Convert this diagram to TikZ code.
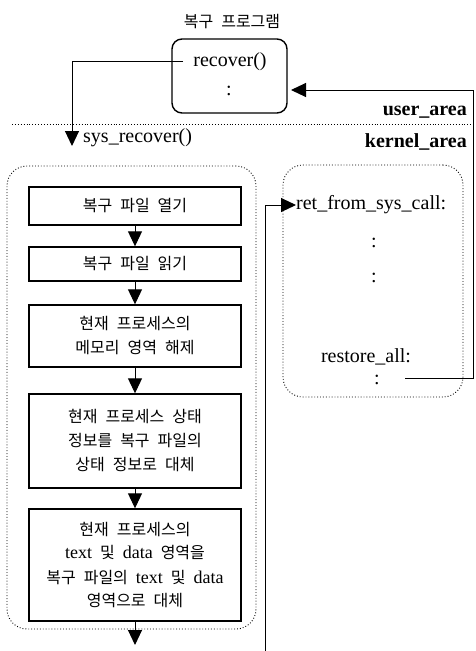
\documentclass[tikz,border=0pt]{standalone}
\usepackage{fontspec}
\setmainfont{Liberation Serif}
\newfontfamily\kr{Noto Sans CJK KR}
\usetikzlibrary{arrows.meta}
\newcommand{\gp}{\hspace{0.5em}}
\newcommand{\lt}[1]{{\rmfamily\fontsize{18}{18}\selectfont #1}}
\begin{document}
\begin{tikzpicture}[x=1pt,y=-1pt,
  tip/.style={-{Triangle[length=15pt,width=14pt]}},
  conn/.style={line width=1pt,tip},
  flowbox/.style={draw,line width=1.4pt,minimum width=212pt,align=center,font=\kr\fontsize{16}{24}\selectfont,inner sep=0pt},
  dotbox/.style={draw,dotted,line width=0.9pt,rounded corners=20pt,inner sep=0pt},
  latin/.style={font=\fontsize{20}{22}\selectfont,inner sep=0pt},
  areal/.style={font=\bfseries\fontsize{20}{22}\selectfont,inner sep=0pt,anchor=east}]
\useasboundingbox (0,0) rectangle (475,651);
% user area
\node[font=\kr\fontsize{16}{18}\selectfont,inner sep=0pt] (title) at (232,22) {복구\gp 프로그램};
\node[draw,line width=1.4pt,rounded corners=10pt,minimum width=115pt,minimum height=74pt,inner sep=0pt] (recbox) at (229.5,76) {};
\node[latin] (rec) at (230,62) {recover()};
\node[latin] (rcol) at (229,91) {:};
\coordinate (recout) at (183,61);
\coordinate (callend) at (72,146);
\draw[conn] (recout) -- (72,61) -- (callend);
\node[latin,anchor=west] (sysrec) at (83,138) {sys\_recover()};
\coordinate (sepL) at (12,124);
\coordinate (sepR) at (475,124);
\draw[dotted,line width=0.9pt] (sepL) -- (sepR);
\node[areal] (ua) at (467,112) {user\_area};
\node[areal] (ka) at (467,142) {kernel\_area};
% kernel box
\node[dotbox,minimum width=249pt,minimum height=463pt] (kbox) at (131.5,397.5) {};
\node[flowbox,minimum height=38pt] (b1) at (135,206) {복구\gp 파일\gp 열기};
\node[flowbox,minimum height=34pt] (b2) at (135,264) {복구\gp 파일\gp 읽기};
\node[flowbox,minimum height=62pt] (b3) at (135,336) {현재\gp 프로세스의\\메모리\gp 영역\gp 해제};
\node[flowbox,minimum height=94pt] (b4) at (135,441) {현재\gp 프로세스\gp 상태\\정보를\gp 복구\gp 파일의\\상태\gp 정보로\gp 대체};
\node[flowbox,minimum height=112pt] (b5) at (135,565) {현재\gp 프로세스의\\\lt{text}\gp 및\gp \lt{data}\gp 영역을\\복구\gp 파일의\gp \lt{text}\gp 및\gp \lt{data}\\영역으로\gp 대체};
\coordinate (kend) at (135,645);
\draw[conn] (b1) -- (b2);
\draw[conn] (b2) -- (b3);
\draw[conn] (b3) -- (b4);
\draw[conn] (b4) -- (b5);
\draw[conn] (b5) -- (kend);
% right panel
\node[dotbox,minimum width=180pt,minimum height=232pt] (rbox) at (373,281) {};
\node[latin,anchor=west] (ret) at (296,205) {ret\_from\_sys\_call:};
\node[latin] (c1) at (374,243) {:};
\node[latin] (c2) at (374,278) {:};
\node[latin] (rest) at (366,357) {restore\_all:};
\node[latin] (c3) at (377,380) {:};
\coordinate (retout) at (405,378);
\coordinate (retin) at (291,90);
\draw[conn] (retout) -- (473,378) -- (473,90) -- (retin);
\coordinate (sysbot) at (265,651);
\draw[conn] (sysbot) -- (265,205) -- (ret.west);
\end{tikzpicture}
\end{document}
